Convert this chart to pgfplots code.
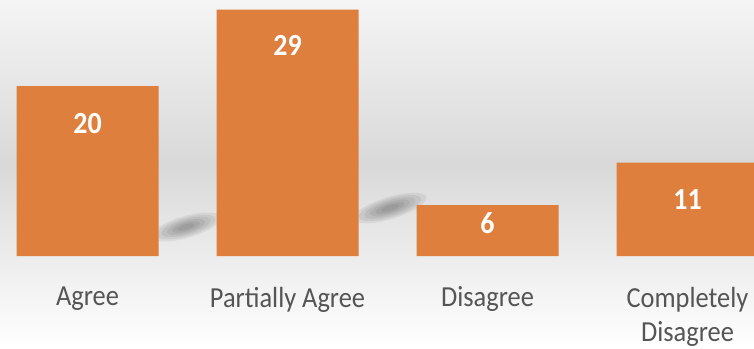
\documentclass[border=0pt]{standalone}
\usepackage{pgfplots}
\pgfplotsset{compat=1.18}
\usepackage{fontspec}
\setmainfont{Carlito}
\definecolor{barorange}{HTML}{DF7F3D}
\definecolor{labgrey}{HTML}{555555}
\begin{document}
\begin{tikzpicture}[x=1bp,y=1bp]
\useasboundingbox (0,0) rectangle (754,348);
\shade[top color=white!96!black, bottom color=white!85!black] (0,185) rectangle (754,348);
\shade[top color=white!85!black, bottom color=white] (0,0) rectangle (754,185);
\foreach \s in {1.0,0.85,0.7,0.55,0.4,0.25} {
  \fill[black, opacity=0.06, rotate around={16:(186,121)}] (186,121) ellipse [x radius={36*\s}, y radius={11*\s}];
  \fill[black, opacity=0.06, rotate around={17:(390,140)}] (390,140) ellipse [x radius={38*\s}, y radius={11*\s}];
}
\begin{axis}[
  at={(0bp,92bp)}, anchor=south west,
  width=754bp, height=256bp, scale only axis,
  xmin=-0.4375, xmax=3.3325, ymin=0, ymax=30.12,
  axis line style={draw=none}, tick style={draw=none},
  xtick={0,1,2,3},
  xticklabels={Agree, Partially Agree, Disagree, {Completely\\Disagree}},
  xticklabel style={font=\fontsize{26.5}{31}\selectfont, text=labgrey, align=center, anchor=north, yshift=-27bp, yscale=1.1},
  ytick=\empty,
  clip=true,
]
\addplot[ybar, bar width=142bp, fill=barorange, draw=none] coordinates {(0,20) (1,29) (2,6) (3,11)};
\addplot[draw=none, mark=none, point meta=explicit symbolic,
  nodes near coords={\pgfplotspointmeta}, nodes near coords align={center},
  nodes near coords style={anchor=center, text=white, font=\bfseries\fontsize{28}{30}\selectfont, yscale=1.1}]
  coordinates {(0,15.6) [20] (1,24.8) [29] (2,3.9) [6] (3,6.6) [11]};
\end{axis}
\end{tikzpicture}
\end{document}
